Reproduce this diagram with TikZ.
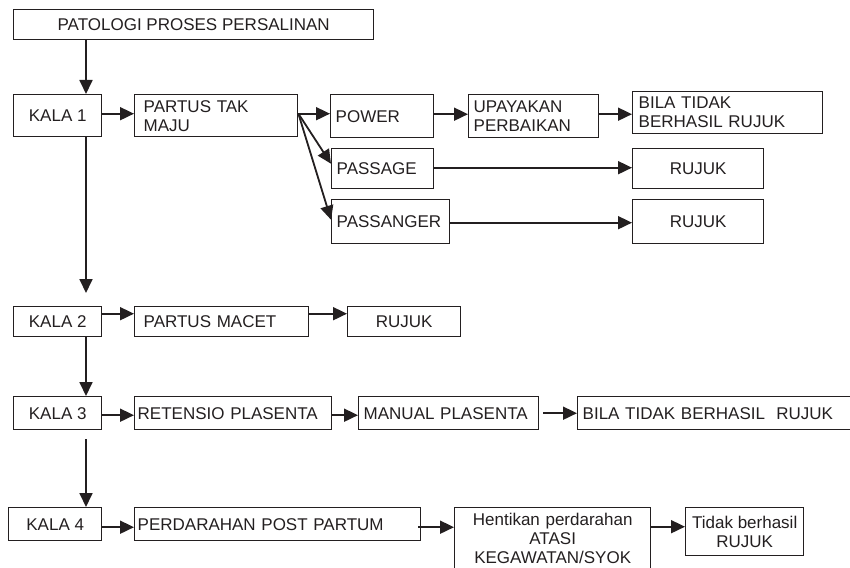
\documentclass[tikz,border=0pt]{standalone}
\usepackage{fontspec}
\setmainfont{Liberation Sans}
\usetikzlibrary{arrows.meta}
\definecolor{ink}{RGB}{35,31,32}
\newcommand{\lbl}{\fontsize{17}{19}\selectfont}
\tikzset{
  box/.style={draw=ink, text=ink, line width=1.4pt, anchor=north west,
    inner sep=0pt, font=\lbl},
  lbox/.style={box, align=left},
  cbox/.style={box, align=center},
  arr/.style={draw=ink, line width=1.8pt,
    -{Triangle[length=14pt,width=13pt]}},
}
\begin{document}
\begin{tikzpicture}[x=1pt, y=-1pt]
\useasboundingbox (0,0) rectangle (850,567);
\clip (0,0) rectangle (850,567);

% header
\node[cbox, minimum width=360, minimum height=30] (title) at (13,9) {PATOLOGI PROSES PERSALINAN};
\coordinate (spine) at (86,0);

% stage 1
\node[cbox, minimum width=88, minimum height=42] (k1) at (13,94) {KALA 1};
\node[lbox, minimum width=163, minimum height=42, text width=145] (ptm) at (134,94) {PARTUS TAK\\MAJU};
\node[lbox, minimum width=103, minimum height=43, text width=93] (power) at (330,94) {POWER};
\node[lbox, minimum width=102, minimum height=40, text width=92] (passage) at (331,148) {PASSAGE};
\node[lbox, minimum width=118, minimum height=44, text width=108] (passanger) at (331,199) {PASSANGER};
\node[lbox, minimum width=130, minimum height=43, text width=120] (upaya) at (468,94) {UPAYAKAN\\PERBAIKAN};
\node[lbox, minimum width=190, minimum height=42, text width=178] (bila1) at (632,91) {BILA TIDAK\\BERHASIL RUJUK};
\node[cbox, minimum width=131, minimum height=40] (rujukA) at (632,148) {RUJUK};
\node[cbox, minimum width=131, minimum height=44] (rujukB) at (632,199) {RUJUK};

% stage 2
\node[cbox, minimum width=88, minimum height=30] (k2) at (13,306) {KALA 2};
\node[lbox, minimum width=174, minimum height=30, text width=156] (macet) at (134,306) {PARTUS MACET};
\node[cbox, minimum width=113, minimum height=30] (rujukC) at (347,306) {RUJUK};

% stage 3
\node[cbox, minimum width=88, minimum height=33] (k3) at (13,396) {KALA 3};
\node[lbox, minimum width=197, minimum height=33, text width=191] (retensio) at (134,396) {RETENSIO PLASENTA};
\node[lbox, minimum width=180, minimum height=33, text width=170] (manual) at (358,396) {MANUAL PLASENTA};
\node[lbox, minimum width=283, minimum height=33, text width=273] (bila2) at (577,396) {BILA TIDAK BERHASIL\ \ RUJUK};

% stage 4 (the middle box runs past the lower edge)
\node[cbox, minimum width=93, minimum height=33] (k4) at (8,507) {KALA 4};
\node[lbox, minimum width=286, minimum height=33, text width=280] (perd) at (134,507) {PERDARAHAN POST PARTUM};
\node[cbox, minimum width=196, text width=190, inner ysep=5pt] (henti) at (454,507)
  {Hentikan perdarahan\\ATASI\\KEGAWATAN/SYOK\\\rule[-10pt]{0pt}{10pt}};
\node[cbox, minimum width=118, minimum height=48] (tidak) at (685,507) {Tidak berhasil\\RUJUK};

% vertical spine
\draw[arr] (title.south -| spine) -- (k1.north -| spine);
\draw[arr] (k1.south -| spine) -- ([yshift=13]k2.north -| spine);
\draw[arr] (k2.south -| spine) -- (k3.north -| spine);
\draw[arr] ([yshift=-9]k3.south -| spine) -- (k4.north -| spine);

% stage 1 connectors
\draw[arr] ([yshift=2]k1.east) -- ([yshift=2]k1.east -| ptm.west);
\draw[arr] ([yshift=2]ptm.east) -- ([yshift=2]ptm.east -| power.west);
\draw[arr] ([yshift=2]ptm.east) -- ([yshift=5]passage.west);
\draw[arr] ([yshift=2]ptm.east) -- ([yshift=2]passanger.west);
\draw[arr] ([yshift=2]power.east) -- ([yshift=2]power.east -| upaya.west);
\draw[arr] ([yshift=2]upaya.east) -- ([yshift=2]upaya.east -| bila1.west);
\draw[arr] ([yshift=1]passage.east) -- ([yshift=1]passage.east -| rujukA.west);
\draw[arr] ([yshift=-1]passanger.east) -- ([yshift=-1]passanger.east -| rujukB.west);

% stage 2 connectors
\draw[arr] ([yshift=8]k2.east) -- ([yshift=8]k2.east -| macet.west);
\draw[arr] ([yshift=8]macet.east) -- ([yshift=8]macet.east -| rujukC.west);

% stage 3 connectors
\draw[arr] ([yshift=-2]k3.east) -- ([yshift=-2]k3.east -| retensio.west);
\draw[arr] ([yshift=-2]retensio.east) -- ([yshift=-2]retensio.east -| manual.west);
\draw[arr] ([xshift=4]manual.east) -- (manual.east -| bila2.west);

% stage 4 connectors
\draw[arr] ([yshift=-3]k4.east) -- ([yshift=-3]k4.east -| perd.west);
\draw[arr] ([xshift=-3,yshift=-3]perd.east) -- ([yshift=-3]perd.east -| henti.west);
\draw[arr] ([yshift=5]tidak.west -| henti.east) -- ([yshift=5]tidak.west);
\end{tikzpicture}
\end{document}
